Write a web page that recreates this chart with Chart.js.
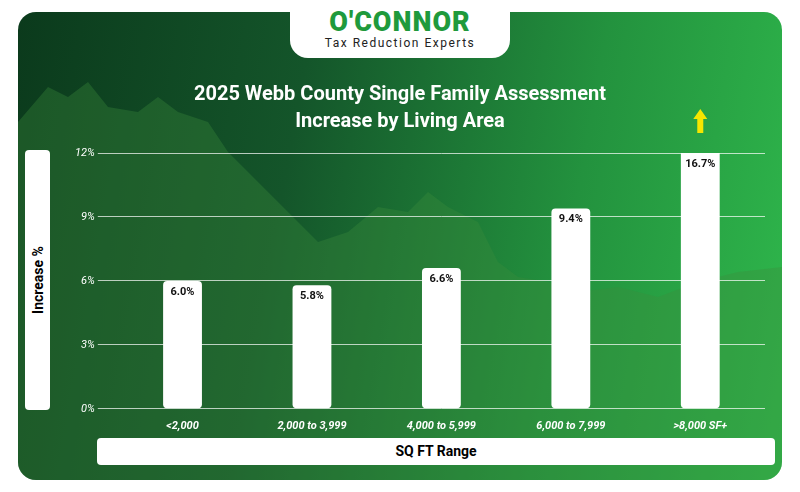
<!DOCTYPE html>
<html>
<head>
<meta charset="utf-8">
<script src="https://cdn.jsdelivr.net/npm/chart.js@4"></script>
<style>
  body { margin: 0; width: 800px; height: 492px; background: #fff; font-family: Roboto, sans-serif; overflow: hidden; }
  #card { position: absolute; left: 18px; top: 12px; width: 764px; height: 468px; border-radius: 18px;
    background: linear-gradient(100deg, #0b3a1c 0%, #14552a 35%, #23923e 70%, #2fb84c 100%); overflow: hidden; }
  #hill { position: absolute; left: 0; top: 0; }
  #logo { position: absolute; left: 290px; top: 0; width: 220px; height: 58px; background: #fff; border-radius: 0 0 18px 18px; text-align: center; }
  #logo .b { font-size: 27px; font-weight: 900; color: #1f9a3c; letter-spacing: 1px; margin-top: 6px; }
  #logo .s { font-size: 12px; color: #222; letter-spacing: 1.5px; margin-top: -2px; }
  #title { position: absolute; left: 0; width: 800px; top: 80px; text-align: center; color: #fff; font-weight: bold; font-size: 20px; line-height: 27px; }
  #ybox { position: absolute; left: 25px; top: 150px; width: 25px; height: 260px; background: #fff; border-radius: 4px; }
  #ybox span { position: absolute; left: 50%; top: 50%; transform: translate(-50%,-50%) rotate(-90deg); font-weight: bold; font-size: 14px; white-space: nowrap; }
  #xbox { position: absolute; left: 97px; top: 438px; width: 678px; height: 27px; background: #fff; border-radius: 4px; text-align: center; line-height: 27px; font-weight: bold; font-size: 14px; }
  canvas { position: absolute; left: 0; top: 0; }
</style>
</head>
<body>
<div id="card"><canvas id="hill" width="764" height="468"></canvas></div>
<div id="logo"><div class="b">O'CONNOR</div><div class="s">Tax Reduction Experts</div></div>
<div id="title">2025 Webb County Single Family Assessment<br>Increase by Living Area</div>
<div id="ybox"><span>Increase %</span></div>
<div id="xbox">SQ FT Range</div>
<canvas id="chart" width="800" height="492"></canvas>
<script>
const categories = ["<2,000", "2,000 to 3,999", "4,000 to 5,999", "6,000 to 7,999", ">8,000 SF+"];
const increases = [6.0, 5.8, 6.6, 9.4, 16.7];
const yTicks = [0, 3, 6, 9, 12];

// faint hill silhouette in background
const h = document.getElementById("hill").getContext("2d");
h.fillStyle = "rgba(60,140,60,0.35)";
h.beginPath();
h.moveTo(0, 110);
[[30,75],[50,85],[70,70],[90,95],[120,100],[140,85],[160,100],[190,110],[210,140],[240,170],[270,200],[300,230],[330,220],[360,195],[390,200],[410,180],[430,195],[460,210],[480,250],[500,265],[530,270],[560,280],[600,275],[640,285],[680,270],[720,260],[764,255],[764,468],[0,468]].forEach(p => h.lineTo(p[0], p[1]));
h.closePath(); h.fill();

const labelPlugin = {
  id: "labels",
  afterDatasetsDraw(chart) {
    const ctx = chart.ctx;
    const meta = chart.getDatasetMeta(0);
    ctx.save();
    ctx.font = "bold 11px Roboto";
    ctx.fillStyle = "#111";
    ctx.textAlign = "center";
    meta.data.forEach((bar, i) => {
      const top = Math.max(bar.y, chart.chartArea.top);
      ctx.fillText(increases[i].toFixed(1) + "%", bar.x, top + 14);
      if (increases[i] > chart.scales.y.max) {
        ctx.fillStyle = "#f5e600";
        ctx.beginPath();
        ctx.moveTo(bar.x, top - 44); ctx.lineTo(bar.x - 7, top - 34); ctx.lineTo(bar.x - 3, top - 34);
        ctx.lineTo(bar.x - 3, top - 20); ctx.lineTo(bar.x + 3, top - 20); ctx.lineTo(bar.x + 3, top - 34);
        ctx.lineTo(bar.x + 7, top - 34); ctx.closePath(); ctx.fill();
        ctx.fillStyle = "#111";
      }
    });
    ctx.restore();
  }
};

new Chart(document.getElementById("chart"), {
  type: "bar",
  data: {
    labels: categories,
    datasets: [{
      data: increases,
      backgroundColor: "#ffffff",
      borderRadius: 4,
      borderSkipped: false,
      barPercentage: 0.3,
      categoryPercentage: 1
    }]
  },
  options: {
    responsive: false,
    animation: false,
    layout: { padding: { left: 72, top: 153, right: 35, bottom: 56 } },
    plugins: { legend: { display: false }, tooltip: { enabled: false } },
    scales: {
      x: {
        grid: { display: false },
        border: { display: false },
        ticks: { color: "#fff", font: { family: "Roboto", size: 11, style: "italic", weight: "bold" } }
      },
      y: {
        min: 0, max: 12,
        afterBuildTicks: s => { s.ticks = yTicks.map(v => ({ value: v })); },
        grid: { color: "rgba(255,255,255,0.7)", lineWidth: 1, tickLength: 20 },
        border: { display: false },
        ticks: { color: "#fff", padding: 3, font: { family: "Roboto", size: 11, style: "italic" }, callback: v => v + "%" }
      }
    }
  },
  plugins: [labelPlugin]
});
</script>
</body>
</html>
